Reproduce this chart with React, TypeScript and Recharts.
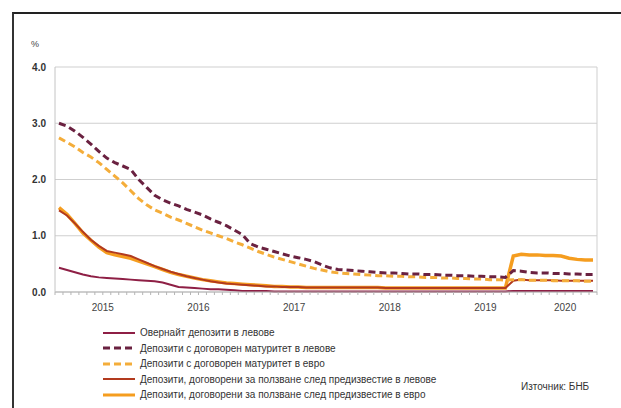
import { CartesianGrid, Line, LineChart, ReferenceLine, XAxis, YAxis } from "recharts";

// Monthly interest rates on new household deposits, Jan 2015 onwards, %
const overnightBgn = [
  0.43, 0.39, 0.35, 0.31, 0.28, 0.26, 0.25, 0.24, 0.23, 0.22, 0.21, 0.2,
  0.19, 0.17, 0.13, 0.09, 0.08, 0.07, 0.06, 0.05, 0.05, 0.04, 0.03, 0.02,
  0.02, 0.02, 0.02, 0.01, 0.01, 0.01, 0.01, 0.01, 0.01, 0.01, 0.01, 0.01,
  0.01, 0.01, 0.01, 0.01, 0.01, 0.01, 0.01, 0.01, 0.01, 0.01, 0.01, 0.01,
  0.01, 0.01, 0.01, 0.01, 0.01, 0.01, 0.01, 0.01, 0.01, 0.02, 0.02, 0.02,
  0.02, 0.02, 0.02, 0.02, 0.02, 0.02, 0.02, 0.02,
];
const termBgn = [
  3.0, 2.95, 2.86, 2.75, 2.63, 2.5, 2.38, 2.3, 2.24, 2.18, 2.0, 1.86,
  1.72, 1.64, 1.58, 1.53, 1.47, 1.42, 1.37, 1.3, 1.24, 1.18, 1.1, 1.02,
  0.86, 0.8, 0.76, 0.72, 0.68, 0.64, 0.61, 0.58, 0.54, 0.48, 0.43, 0.4,
  0.39, 0.38, 0.37, 0.36, 0.35, 0.34, 0.34, 0.33, 0.32, 0.32, 0.31, 0.31,
  0.3, 0.3, 0.29, 0.29, 0.28, 0.28, 0.27, 0.27, 0.26, 0.38, 0.37, 0.35,
  0.34, 0.34, 0.33, 0.33, 0.32, 0.32, 0.31, 0.31,
];
const termEur = [
  2.74, 2.66, 2.58, 2.48, 2.4, 2.3, 2.18, 2.06, 1.94, 1.8, 1.66, 1.55,
  1.46, 1.4, 1.33, 1.28, 1.22, 1.16, 1.1, 1.05, 1.0, 0.95, 0.89, 0.84,
  0.78, 0.72, 0.67, 0.62, 0.58, 0.54, 0.5, 0.46, 0.42, 0.39, 0.36, 0.34,
  0.33, 0.32, 0.31, 0.3, 0.29, 0.29, 0.28, 0.28, 0.27, 0.27, 0.26, 0.26,
  0.25, 0.25, 0.24, 0.24, 0.23, 0.23, 0.22, 0.22, 0.21, 0.22, 0.22, 0.21,
  0.21, 0.21, 0.2, 0.2, 0.2, 0.2, 0.19, 0.19,
];
const noticeBgn = [
  1.45, 1.36, 1.22, 1.07, 0.93, 0.82, 0.73, 0.7, 0.67, 0.64, 0.58, 0.52,
  0.46, 0.41, 0.36, 0.32, 0.28, 0.25, 0.22, 0.19, 0.17, 0.15, 0.14, 0.13,
  0.12, 0.11, 0.1, 0.1, 0.09, 0.09, 0.09, 0.08, 0.08, 0.08, 0.08, 0.08,
  0.08, 0.08, 0.08, 0.08, 0.08, 0.07, 0.07, 0.07, 0.07, 0.07, 0.07, 0.07,
  0.07, 0.07, 0.07, 0.07, 0.07, 0.07, 0.07, 0.07, 0.07, 0.2, 0.22, 0.21,
  0.21, 0.21, 0.21, 0.2, 0.2, 0.2, 0.2, 0.2,
];
const noticeEur = [
  1.5, 1.38, 1.22, 1.05, 0.92, 0.8, 0.7, 0.66, 0.63, 0.6, 0.55, 0.5,
  0.45, 0.4, 0.35, 0.31, 0.28, 0.25, 0.22, 0.2, 0.18, 0.16, 0.15, 0.14,
  0.13, 0.12, 0.11, 0.1, 0.1, 0.09, 0.09, 0.08, 0.08, 0.08, 0.08, 0.08,
  0.08, 0.08, 0.08, 0.08, 0.08, 0.07, 0.07, 0.07, 0.07, 0.07, 0.07, 0.07,
  0.07, 0.07, 0.07, 0.07, 0.07, 0.07, 0.07, 0.07, 0.07, 0.64, 0.67, 0.66,
  0.66, 0.65, 0.65, 0.64, 0.6, 0.58, 0.57, 0.57,
];

const yearLabels = ["2015", "2016", "2017", "2018", "2019", "2020"];
const yTicks = [0, 1, 2, 3, 4];

const seriesNames = {
  overnightBgn: "Овернайт депозити в левове",
  termBgn: "Депозити с договорен матуритет  в левове",
  termEur: "Депозити с договорен матуритет  в евро",
  noticeBgn: "Депозити, договорени за ползване след предизвестие в левове",
  noticeEur: "Депозити, договорени за ползване след предизвестие в евро",
};

type SeriesKey = keyof typeof seriesNames;

const seriesStyle: Record<SeriesKey, { color: string; width: number; dash?: string }> = {
  overnightBgn: { color: "#8e1f45", width: 2 },
  termBgn: { color: "#6a2140", width: 3, dash: "7 4" },
  termEur: { color: "#f4ad3a", width: 3, dash: "7 4" },
  noticeBgn: { color: "#b23a1e", width: 2 },
  noticeEur: { color: "#f59d1f", width: 3.5 },
};

const legendOrder: SeriesKey[] = ["overnightBgn", "termBgn", "termEur", "noticeBgn", "noticeEur"];
const drawOrder: SeriesKey[] = ["noticeEur", "noticeBgn", "termEur", "termBgn", "overnightBgn"];

const monthCount = overnightBgn.length;

const data = overnightBgn.map((v, i) => ({
  t: i + 0.5,
  overnightBgn: v,
  termBgn: termBgn[i],
  termEur: termEur[i],
  noticeBgn: noticeBgn[i],
  noticeEur: noticeEur[i],
}));

// year label sits in the middle of the months that year covers
const yearLabelAt = new Map<number, string>();
yearLabels.forEach((label, k) => {
  const first = k * 12;
  const last = Math.min((k + 1) * 12, monthCount);
  yearLabelAt.set((first + last) / 2, label);
});

const monthTicks = Array.from({ length: monthCount + 1 }, (_, i) => i);

const FONT = "'Liberation Sans', Arial, sans-serif";

function LegendRows() {
  return (
    <div style={{ position: "absolute", left: 103, top: 325, fontFamily: FONT, fontSize: 10, color: "#333" }}>
      {legendOrder.map((key) => {
        const s = seriesStyle[key];
        return (
          <div key={key} style={{ display: "flex", alignItems: "center", height: 15.5 }}>
            <svg width={32} height={6} style={{ marginRight: 5 }}>
              <line
                x1={0}
                y1={3}
                x2={32}
                y2={3}
                stroke={s.color}
                strokeWidth={Math.min(s.width, 3)}
                strokeDasharray={s.dash}
              />
            </svg>
            <span>{seriesNames[key]}</span>
          </div>
        );
      })}
    </div>
  );
}

export default function App() {
  return (
    <div
      style={{
        position: "absolute",
        left: 0,
        top: 0,
        width: 621,
        height: 408,
        background: "#fff",
        overflow: "hidden",
      }}
    >
      <div
        style={{
          position: "absolute",
          left: 12,
          top: 12,
          width: 640,
          height: 420,
          borderTop: "2px solid #222",
          borderLeft: "2px solid #333",
        }}
      />
      <div style={{ position: "absolute", left: 31, top: 39, fontFamily: FONT, fontSize: 9, color: "#444" }}>%</div>
      <LineChart width={621} height={408} data={data} margin={{ top: 67, right: 24, bottom: 86, left: 15 }}>
        <CartesianGrid vertical={false} stroke="#cfcfcf" />
        <XAxis
          dataKey="t"
          type="number"
          domain={[0, monthCount]}
          ticks={monthTicks}
          interval={0}
          tickFormatter={(t: number) => yearLabelAt.get(t) ?? ""}
          tickSize={3}
          tickMargin={9}
          height={30}
          stroke="#b5b5b5"
          tick={{ fill: "#444", fontSize: 10, fontFamily: FONT }}
        />
        <YAxis
          domain={[0, 4]}
          ticks={yTicks}
          tickFormatter={(v: number) => v.toFixed(1)}
          width={40}
          tickSize={0}
          tickMargin={9}
          stroke="#c4c4c4"
          tick={{ fill: "#333", fontSize: 10, fontFamily: FONT, fontWeight: "bold" }}
        />
        <ReferenceLine x={monthCount} stroke="#cfcfcf" />
        {drawOrder.map((key) => {
          const s = seriesStyle[key];
          return (
            <Line
              key={key}
              type="linear"
              dataKey={key}
              name={seriesNames[key]}
              stroke={s.color}
              strokeWidth={s.width}
              strokeDasharray={s.dash}
              dot={false}
              isAnimationActive={false}
            />
          );
        })}
      </LineChart>
      <LegendRows />
      <div style={{ position: "absolute", left: 521, top: 381, fontFamily: FONT, fontSize: 10, color: "#333" }}>
        Източник: БНБ
      </div>
    </div>
  );
}
